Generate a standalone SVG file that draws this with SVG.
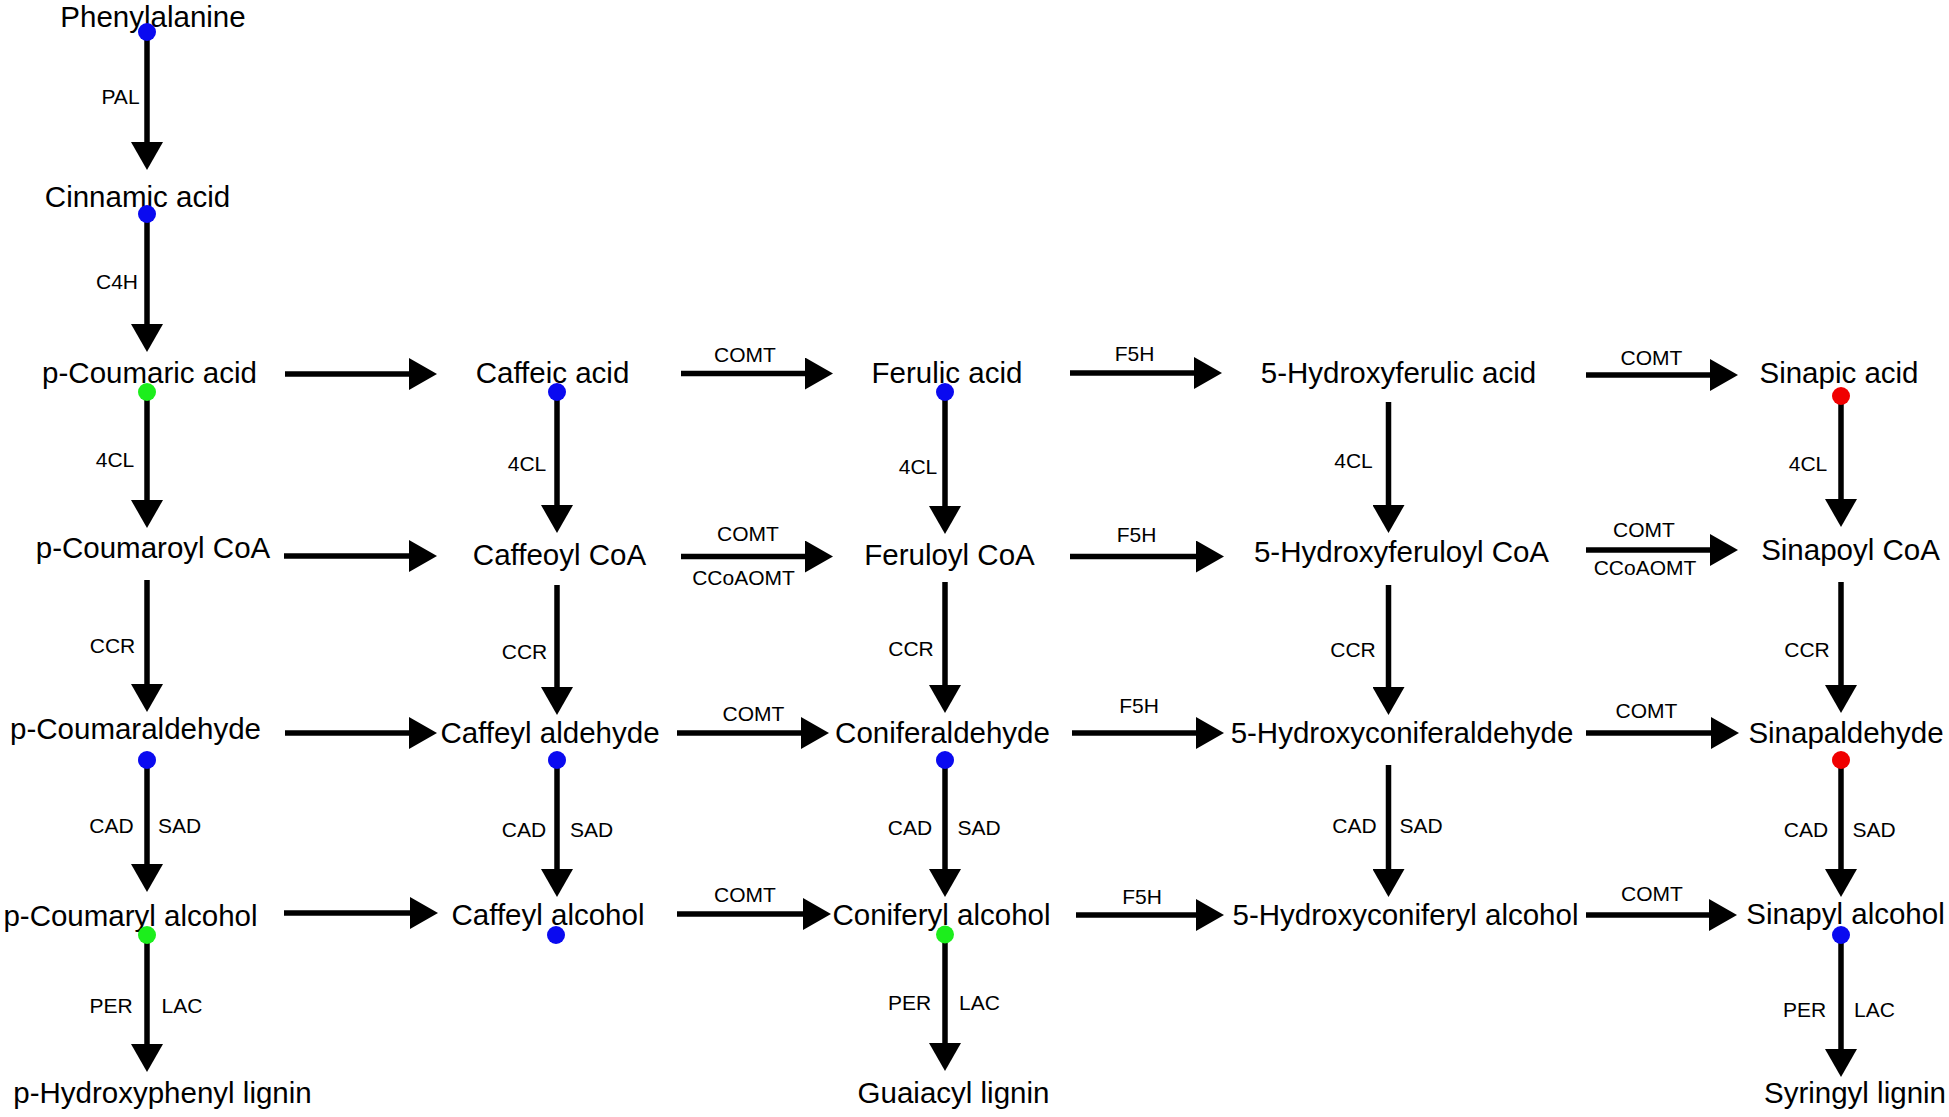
<svg xmlns="http://www.w3.org/2000/svg" width="1949" height="1117" viewBox="0 0 1949 1117">
<style>
.n{font-family:"Liberation Sans",Arial,sans-serif;font-size:29.5px;fill:#000;text-anchor:middle}
.e{font-family:"Liberation Sans",Arial,sans-serif;font-size:21px;fill:#000;text-anchor:middle}
.a{stroke:#000;stroke-width:5.5;fill:none;marker-end:url(#ah)}
.b{fill:#0a0af0}.g{fill:#1cee1c}.r{fill:#f00000}
</style>
<defs>
<marker id="ah" markerUnits="userSpaceOnUse" markerWidth="28" markerHeight="32" viewBox="0 0 28 32" refX="1" refY="16" orient="auto">
<polygon points="0,0 28,16 0,32" fill="#000"/>
</marker>
</defs>
<rect width="1949" height="1117" fill="#fff"/>
<g id="connectors">
<g><path class="a" d="M147 32V143"/><text class="e" x="120.5" y="104">PAL</text></g>
<g><path class="a" d="M147 214V325"/><text class="e" x="117" y="289">C4H</text></g>
<g><path class="a" d="M147 392V501"/><text class="e" x="115" y="467">4CL</text></g>
<g><path class="a" d="M147 580V685"/><text class="e" x="112.5" y="653">CCR</text></g>
<g><path class="a" d="M147 760V865"/><text class="e" x="111.5" y="833">CAD</text><text class="e" x="179.5" y="833">SAD</text></g>
<g><path class="a" d="M147 935V1045"/><text class="e" x="111" y="1013">PER</text><text class="e" x="182" y="1013">LAC</text></g>
<g><path class="a" d="M557 392V506"/><text class="e" x="527" y="471">4CL</text></g>
<g><path class="a" d="M557 585V688"/><text class="e" x="524.5" y="659">CCR</text></g>
<g><path class="a" d="M557 760V870"/><text class="e" x="524" y="837">CAD</text><text class="e" x="591.5" y="837">SAD</text></g>
<g><path class="a" d="M945 392V507"/><text class="e" x="918" y="474">4CL</text></g>
<g><path class="a" d="M945 582V686"/><text class="e" x="911" y="656">CCR</text></g>
<g><path class="a" d="M945 760V870"/><text class="e" x="910" y="835">CAD</text><text class="e" x="979" y="835">SAD</text></g>
<g><path class="a" d="M945 934V1044"/><text class="e" x="909.5" y="1010">PER</text><text class="e" x="979.5" y="1010">LAC</text></g>
<g><path class="a" d="M1388.5 402V506"/><text class="e" x="1353.5" y="468">4CL</text></g>
<g><path class="a" d="M1388.5 585V688"/><text class="e" x="1353" y="657">CCR</text></g>
<g><path class="a" d="M1388.5 765V870"/><text class="e" x="1354.5" y="833">CAD</text><text class="e" x="1421" y="833">SAD</text></g>
<g><path class="a" d="M1841 396V500"/><text class="e" x="1808" y="471">4CL</text></g>
<g><path class="a" d="M1841 582V686"/><text class="e" x="1807" y="657">CCR</text></g>
<g><path class="a" d="M1841 760V870"/><text class="e" x="1806" y="837">CAD</text><text class="e" x="1874" y="837">SAD</text></g>
<g><path class="a" d="M1841 935V1050"/><text class="e" x="1804.5" y="1017">PER</text><text class="e" x="1874.5" y="1017">LAC</text></g>
<g><path class="a" d="M285 374H410"/></g>
<g><path class="a" d="M681 373.5H806"/><text class="e" x="745" y="362">COMT</text></g>
<g><path class="a" d="M1070 373H1195"/><text class="e" x="1134.5" y="361">F5H</text></g>
<g><path class="a" d="M1586 375H1711"/><text class="e" x="1651.5" y="365">COMT</text></g>
<g><path class="a" d="M284 556H410"/></g>
<g><path class="a" d="M681 556.5H806"/><text class="e" x="748" y="541">COMT</text><text class="e" x="743.5" y="585">CCoAOMT</text></g>
<g><path class="a" d="M1070 556.5H1197"/><text class="e" x="1136.5" y="542">F5H</text></g>
<g><path class="a" d="M1586 550H1711"/><text class="e" x="1644" y="537">COMT</text><text class="e" x="1645" y="575">CCoAOMT</text></g>
<g><path class="a" d="M285 733H410"/></g>
<g><path class="a" d="M677 733H802"/><text class="e" x="753.5" y="721">COMT</text></g>
<g><path class="a" d="M1072 733H1197"/><text class="e" x="1139" y="713">F5H</text></g>
<g><path class="a" d="M1586 733H1712"/><text class="e" x="1646.5" y="718">COMT</text></g>
<g><path class="a" d="M284 913H411"/></g>
<g><path class="a" d="M677 914H804"/><text class="e" x="745" y="902">COMT</text></g>
<g><path class="a" d="M1076 915H1197"/><text class="e" x="1142" y="904">F5H</text></g>
<g><path class="a" d="M1586 915H1710"/><text class="e" x="1652" y="901">COMT</text></g>
</g>
<g id="n-phenylalanine"><text class="n" x="153" y="27">Phenylalanine</text><circle class="b" cx="147" cy="32" r="9"/></g>
<g id="n-cinnamic"><text class="n" x="137.5" y="207">Cinnamic acid</text><circle class="b" cx="147" cy="214" r="9"/></g>
<g id="n-pcoumaric"><text class="n" x="149.5" y="383">p-Coumaric acid</text><circle class="g" cx="147" cy="392" r="9"/></g>
<g id="n-caffeic"><text class="n" x="552.5" y="383">Caffeic acid</text><circle class="b" cx="557" cy="392" r="9"/></g>
<g id="n-ferulic"><text class="n" x="947" y="383">Ferulic acid</text><circle class="b" cx="945" cy="392" r="9"/></g>
<g id="n-5hferulic"><text class="n" x="1398.5" y="383">5-Hydroxyferulic acid</text></g>
<g id="n-sinapic"><text class="n" x="1839" y="383">Sinapic acid</text><circle class="r" cx="1841" cy="396" r="9"/></g>
<g id="n-pcoumaroylcoa"><text class="n" x="153" y="558">p-Coumaroyl CoA</text></g>
<g id="n-caffeoylcoa"><text class="n" x="559.5" y="565">Caffeoyl CoA</text></g>
<g id="n-feruloylcoa"><text class="n" x="949.5" y="565">Feruloyl CoA</text></g>
<g id="n-5hferuloylcoa"><text class="n" x="1401.5" y="562">5-Hydroxyferuloyl CoA</text></g>
<g id="n-sinapoylcoa"><text class="n" x="1850.5" y="560">Sinapoyl CoA</text></g>
<g id="n-pcoumaraldehyde"><text class="n" x="135.5" y="739">p-Coumaraldehyde</text><circle class="b" cx="147" cy="760" r="9"/></g>
<g id="n-caffeylaldehyde"><text class="n" x="550" y="743">Caffeyl aldehyde</text><circle class="b" cx="557" cy="760" r="9"/></g>
<g id="n-coniferaldehyde"><text class="n" x="942.5" y="743">Coniferaldehyde</text><circle class="b" cx="945" cy="760" r="9"/></g>
<g id="n-5hconiferaldehyde"><text class="n" x="1402" y="743">5-Hydroxyconiferaldehyde</text></g>
<g id="n-sinapaldehyde"><text class="n" x="1846" y="743">Sinapaldehyde</text><circle class="r" cx="1841" cy="760" r="9"/></g>
<g id="n-pcoumarylalcohol"><text class="n" x="130.5" y="926">p-Coumaryl alcohol</text><circle class="g" cx="147" cy="935" r="9"/></g>
<g id="n-caffeylalcohol"><text class="n" x="548" y="925">Caffeyl alcohol</text><circle class="b" cx="556" cy="935" r="9"/></g>
<g id="n-coniferylalcohol"><text class="n" x="941.5" y="925">Coniferyl alcohol</text><circle class="g" cx="945" cy="934.5" r="9"/></g>
<g id="n-5hconiferylalcohol"><text class="n" x="1405.5" y="925">5-Hydroxyconiferyl alcohol</text></g>
<g id="n-sinapylalcohol"><text class="n" x="1845.5" y="924">Sinapyl alcohol</text><circle class="b" cx="1841" cy="935" r="9"/></g>
<g id="n-hlignin"><text class="n" x="162.5" y="1103">p-Hydroxyphenyl lignin</text></g>
<g id="n-glignin"><text class="n" x="953.5" y="1103">Guaiacyl lignin</text></g>
<g id="n-slignin"><text class="n" x="1855" y="1103">Syringyl lignin</text></g>
</svg>
